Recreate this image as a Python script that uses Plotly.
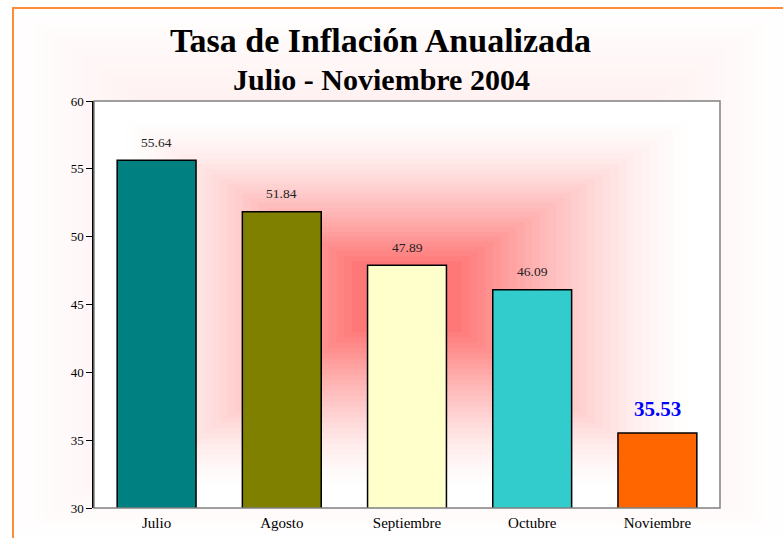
import plotly.graph_objects as go

# ---- data ----
categories = ["Julio", "Agosto", "Septiembre", "Octubre", "Noviembre"]
values = [55.64, 51.84, 47.89, 46.09, 35.53]
value_labels = ["55.64", "51.84", "47.89", "46.09", "35.53"]
bar_colors = ["#008080", "#808000", "#FFFFCC", "#33CCCC", "#FF6600"]
y_ticks = [30, 35, 40, 45, 50, 55, 60]

W, H = 783, 538
L, R, T, B = 94, 63, 101, 30
pw, ph = W - L - R, H - T - B

def px2x(px):
    return (px - L) / pw

def py2y(py):
    return (H - B - py) / ph

SERIF = "Liberation Serif, Times New Roman, serif"

fig = go.Figure()
fig.add_trace(go.Bar(
    x=categories, y=values,
    marker=dict(color=bar_colors, line=dict(color="black", width=1.5)),
    hoverinfo="x+y",
))

annotations = []
for i, (c, v, lab) in enumerate(zip(categories, values, value_labels)):
    last = i == len(categories) - 1
    annotations.append(dict(
        x=c, y=v, xref="x", yref="y", text=lab, showarrow=False,
        xanchor="center", yanchor="middle", yshift=24 if last else 18,
        font=dict(family=SERIF, size=21 if last else 13.5,
                  color="#0000FF" if last else "#222222",
                  weight="bold" if last else "normal"),
    ))

annotations.append(dict(
    x=px2x(380), y=py2y(41), xref="paper", yref="paper",
    xanchor="center", yanchor="middle",
    text="<b>Tasa de Inflación Anualizada</b>", showarrow=False,
    font=dict(family=SERIF, size=34, color="black"),
))
annotations.append(dict(
    x=px2x(381), y=py2y(79), xref="paper", yref="paper",
    xanchor="center", yanchor="middle",
    text="<b>Julio - Noviembre 2004</b>", showarrow=False,
    font=dict(family=SERIF, size=30, color="black"),
))


def gradient_rects(cx, cy, left, right, top, bottom, alpha_fn, n=40):
    """Nested translucent rectangles approximating a rectangular 'from center' gradient."""
    tr = [1 - alpha_fn((k - 0.5) / n) for k in range(1, n + 1)] + [1.0]
    out = []
    for k in range(n, 0, -1):
        f = k / n
        a = max(0.0, 1 - tr[k - 1] / tr[k])
        out.append(dict(
            type="rect", xref="paper", yref="paper", layer="below",
            x0=px2x(cx - f * (cx - left)), x1=px2x(cx + f * (right - cx)),
            y0=py2y(cy + f * (bottom - cy)), y1=py2y(cy - f * (cy - top)),
            line=dict(width=0), fillcolor=f"rgba(255,0,0,{a:.4f})",
        ))
    return out


def chart_alpha(d):
    return 0.2 * (1 - d)


def plot_alpha(d):
    core, edge = 0.16, 0.92
    if d <= core:
        return 0.5
    if d >= edge:
        return 0.0
    return 0.5 * (1 - (d - core) / (edge - core)) ** 1.5


shapes = []
# chart-area gradient
shapes += gradient_rects(400, 275, 14, 783, 9, 538, chart_alpha)
# plot area white fill
shapes.append(dict(type="rect", xref="paper", yref="paper", layer="below",
                   x0=0, x1=1, y0=0, y1=1, line=dict(width=0), fillcolor="white"))
# plot-area gradient
shapes += gradient_rects(407, 295, 94, 720, 101, 508, plot_alpha)

# plot area frame (gray)
shapes.append(dict(type="rect", xref="paper", yref="paper", x0=0, x1=1, y0=0, y1=1,
                   line=dict(color="#808080", width=1.5), layer="above"))
# orange outer frame
shapes.append(dict(type="rect", xref="paper", yref="paper",
                   x0=px2x(13), x1=px2x(800), y0=py2y(560), y1=py2y(8),
                   line=dict(color="#FF8C3A", width=2), layer="above"))

fig.update_layout(
    width=W, height=H,
    margin=dict(l=L, r=R, t=T, b=B, pad=0, autoexpand=False),
    paper_bgcolor="white", plot_bgcolor="rgba(0,0,0,0)",
    bargap=0.37, showlegend=False,
    annotations=annotations, shapes=shapes,
    xaxis=dict(showgrid=False, showline=False, ticks="", automargin=False,
               tickfont=dict(family=SERIF, size=15, color="black"),
               ticklabelstandoff=4, fixedrange=True),
    yaxis=dict(range=[30, 60], tickvals=y_ticks, showgrid=False, zeroline=False,
               showline=True, linecolor="black", linewidth=1.5, automargin=False,
               ticks="outside", ticklen=6, tickcolor="black", tickwidth=1,
               tickfont=dict(family=SERIF, size=13, color="black"),
               fixedrange=True),
)

fig.write_html(
    "out.html",
    config={"displayModeBar": False},
    post_script="document.body.style.margin='0';document.body.style.overflow='hidden';",
)
